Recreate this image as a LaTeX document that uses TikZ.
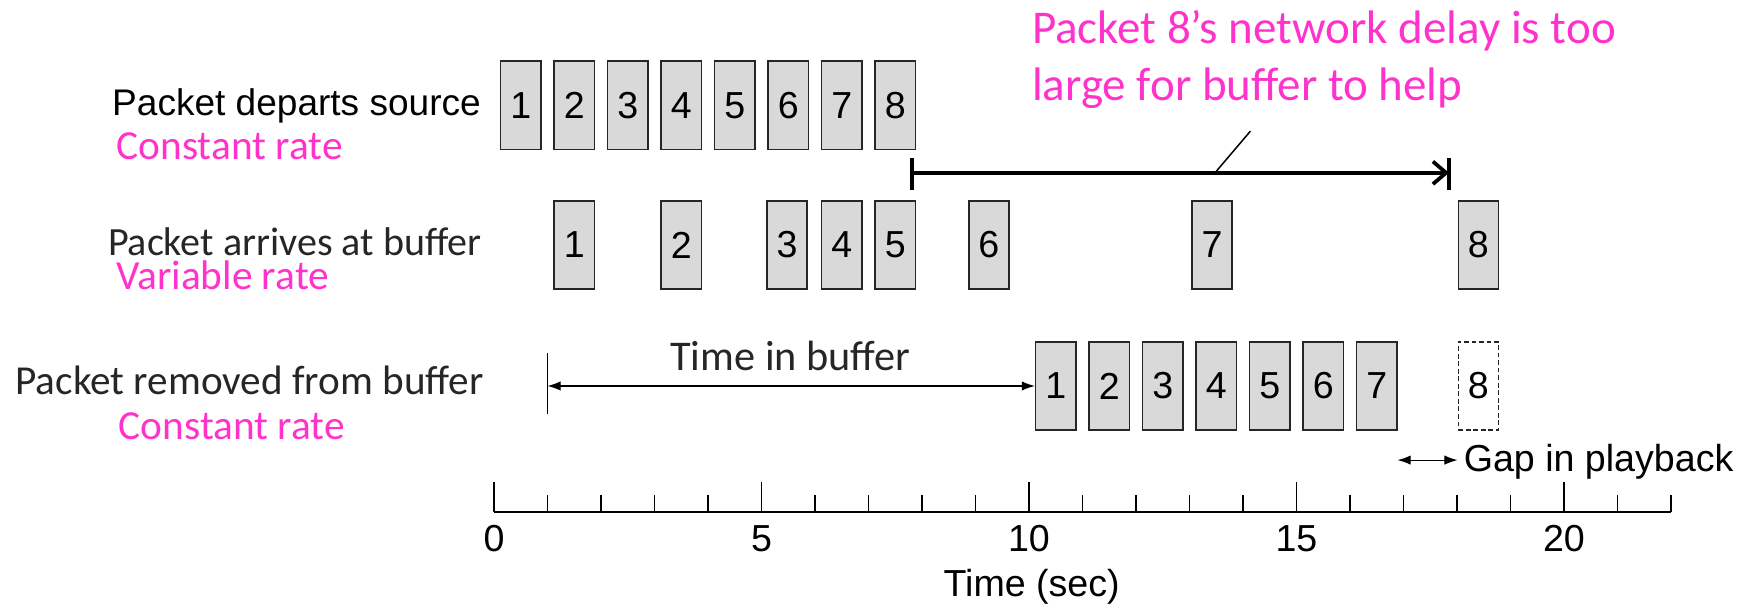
\documentclass[tikz,border=0pt]{standalone}
\usepackage{fontspec}
\setmainfont{Liberation Sans}
\newfontfamily\calibfont{Carlito}
\usetikzlibrary{arrows.meta}
\definecolor{notepink}{RGB}{255,51,204}
\definecolor{pktgray}{RGB}{217,217,217}

\begin{document}
\begin{tikzpicture}[
    packet/.style={
      rectangle,
      draw=black!85,
      line width=0.8pt,
      fill=pktgray,
      inner sep=0pt,
      minimum width=0.75cm,
      minimum height=1.65cm,
      font=\fontsize{20}{24}\selectfont
    },
    lost/.style={
      packet,
      fill=none,
      dash pattern=on 2.5pt off 1.5pt
    },
    rowlabel/.style={
      inner sep=0pt,
      anchor=base east,
      text=black!85,
      font=\calibfont\fontsize{21.3}{26}\selectfont
    },
    ratelabel/.style={
      inner sep=0pt,
      anchor=base west,
      text=notepink,
      font=\calibfont\fontsize{22}{27}\selectfont
    },
    axislabel/.style={
      inner sep=0pt,
      anchor=base,
      font=\fontsize{20}{24}\selectfont
    },
    smallarrow/.style={
      {Latex[length=7pt,width=5pt]}-{Latex[length=7pt,width=5pt]},
      line width=0.6pt
    }
]
\useasboundingbox (-9.234,-1.757) rectangle (23.44,9.57);

% packets leaving the source
\foreach \i in {1,...,8}
  \node[packet] (s\i) at (\i-0.5,7.6) {\i};

% packets reaching the buffer
\foreach \i/\x in {1/1.5,2/3.5,3/5.48,4/6.5,5/7.5,6/9.25,7/13.42,8/18.4}
  \node[packet] (a\i) at (\x,4.99) {\i};

% packets taken out of the buffer
\foreach \i in {1,...,7}
  \node[packet] (r\i) at (\i+9.5,2.355) {\i};
\node[lost] (r8) at (18.4,2.355) {8};

\node[inner sep=0pt,anchor=base east,font=\fontsize{19.7}{24}\selectfont] (lsrc) at (-0.24,7.42) {Packet departs source};
\node[ratelabel] (rsrc) at (-7.06,6.58) {Constant rate};
\node[rowlabel] (larr) at (-0.23,4.8) {Packet arrives at buffer};
\node[ratelabel] (rarr) at (-7.07,4.15) {Variable rate};
\node[rowlabel,font=\calibfont\fontsize{21.9}{26}\selectfont] (lrem) at (-0.19,2.19) {Packet removed from buffer};
\node[ratelabel] (rrem) at (-7.02,1.35) {Constant rate};

\node[ratelabel,font=\calibfont\fontsize{25}{30}\selectfont] (delay1) at (10.05,8.76) {Packet 8’s network delay is too};
\node[ratelabel,font=\calibfont\fontsize{25}{30}\selectfont] (delay2) at (10.05,7.7) {large for buffer to help};

% network delay of packet 8
\coordinate (dstart) at (7.82,6.34);
\coordinate (dend) at (17.85,6.34);
\draw[line width=2pt] ([yshift=-0.33cm]dstart) -- ([yshift=0.27cm]dstart);
\draw[line width=2pt] ([yshift=-0.33cm]dend) -- ([yshift=0.27cm]dend);
\draw[-{Straight Barb[length=7pt,width=12pt]},line width=2pt] (dstart) -- (dend);
\path (dstart) -- (dend) coordinate[pos=0.564] (dmid);
\coordinate (dnote) at (14.14,7.12);
\draw[line width=0.8pt] (dmid) -- (dnote);

% time in buffer
\coordinate (tbbot) at (1,1.83);
\coordinate (tbtop) at (1,2.98);
\draw[line width=0.6pt] (tbbot) -- (tbtop);
\draw[smallarrow] (tbbot |- r1.west) -- (r1.west);
\node[rowlabel,anchor=base,font=\calibfont\fontsize{22.5}{27}\selectfont] (tbuf) at (5.54,2.65) {Time in buffer};

% gap in playback
\coordinate (gapy) at (0,0.97);
\draw[smallarrow] (r7.east |- gapy) -- (r8.west |- gapy);
\node[inner sep=0pt,anchor=base west,font=\fontsize{20}{24}\selectfont] (gap) at (18.12,0.76) {Gap in playback};

% time axis
\draw[line width=0.8pt] (0,0) -- (22,0);
\foreach \t in {0,...,22}
  \draw[line width=0.8pt] (\t,0) -- (\t,0.325);
\foreach \t in {0,5,...,20} {
  \draw[line width=0.8pt] (\t,0) -- (\t,0.56);
  \node[axislabel] (n\t) at (\t,-0.74) {\t};
}
\node[axislabel] (taxis) at (10.05,-1.58) {Time (sec)};

\end{tikzpicture}
\end{document}
